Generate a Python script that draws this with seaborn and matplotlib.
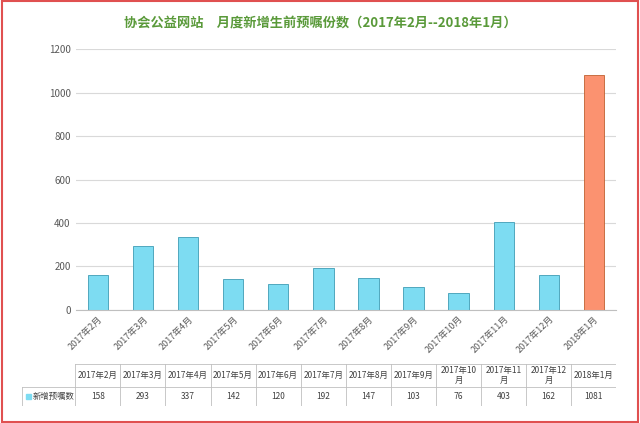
import matplotlib
matplotlib.use("Agg")
import matplotlib.pyplot as plt
import seaborn as sns
import pandas as pd
from matplotlib.patches import Rectangle

plt.rcParams["font.family"] = "Noto Sans CJK SC"

months = ["2017年2月","2017年3月","2017年4月","2017年5月","2017年6月","2017年7月",
          "2017年8月","2017年9月","2017年10月","2017年11月","2017年12月","2018年1月"]
table_labels = ["2017年2月","2017年3月","2017年4月","2017年5月","2017年6月","2017年7月",
                "2017年8月","2017年9月","2017年10\n月","2017年11\n月","2017年12\n月","2018年1月"]
values = [158, 293, 337, 142, 120, 192, 147, 103, 76, 403, 162, 1081]
series_name = "新增预嘱数"
yticks = [0, 200, 400, 600, 800, 1000, 1200]

df = pd.DataFrame({"month": months, "value": values})
colors = ["#7ddcf2"] * 11 + ["#fb9270"]

fig = plt.figure(figsize=(6.4, 4.23), dpi=100)
fig.patches.append(Rectangle((0.003, 0.003), 0.994, 0.994, transform=fig.transFigure,
                             fill=False, edgecolor="#e05050", linewidth=1.5))
ax = fig.add_axes([0.118, 0.268, 0.845, 0.615])
sns.barplot(data=df, x="month", y="value", hue="month", palette=colors, legend=False,
            saturation=1, width=0.45, linewidth=0.6, ax=ax)
for p, c in zip(ax.patches, colors):
    p.set_edgecolor("#c06030" if c == "#fb9270" else "#3f9cb5")
ax.set_ylim(0, 1200)
ax.set_yticks(yticks)
ax.set_xlim(-0.5, len(months) - 0.5)
ax.grid(axis="y", color="#d9d9d9", linewidth=0.8)
ax.set_axisbelow(True)
for s in ["top", "right", "left"]:
    ax.spines[s].set_visible(False)
ax.spines["bottom"].set_color("#bfbfbf")
ax.tick_params(axis="y", labelsize=7, colors="#595959", length=0)
ax.tick_params(axis="x", labelsize=6.5, colors="#595959", length=0)
ax.set_xticks(range(len(months)))
ax.set_xticklabels(months, rotation=45, ha="right", rotation_mode="anchor")
ax.set_xlabel("")
ax.set_ylabel("")

fig.text(0.5, 0.945, "协会公益网站　月度新增生前预嘱份数（2017年2月--2018年1月）",
         ha="center", va="center", fontsize=9.5, fontweight="bold", color="#5a9a3a")

# data table
tab = fig.add_axes([0.035, 0.04, 0.928, 0.1])
tab.set_xlim(0, 1); tab.set_ylim(0, 1); tab.axis("off")
left = 0.089
cw = (1 - left) / len(months)
for i in range(len(months) + 1):
    x = left + i * cw
    tab.plot([x, x], [0, 1], color="#bfbfbf", lw=0.6)
tab.plot([left, 1], [1, 1], color="#bfbfbf", lw=0.6)
tab.plot([0, 1], [0.45, 0.45], color="#bfbfbf", lw=0.6)
tab.plot([0, 1], [0, 0], color="#bfbfbf", lw=0.6)
tab.plot([0, 0], [0, 0.45], color="#bfbfbf", lw=0.6)
for i, (lab, v) in enumerate(zip(table_labels, values)):
    xc = left + (i + 0.5) * cw
    tab.text(xc, 0.73, lab, ha="center", va="center", fontsize=6, color="#404040", linespacing=1.1)
    tab.text(xc, 0.22, str(v), ha="center", va="center", fontsize=6, color="#404040")
tab.add_patch(Rectangle((0.006, 0.16), 0.008, 0.13, color="#7ddcf2"))
tab.text(0.018, 0.22, series_name, ha="left", va="center", fontsize=6, color="#404040")

fig.savefig("out.png", dpi=100)
